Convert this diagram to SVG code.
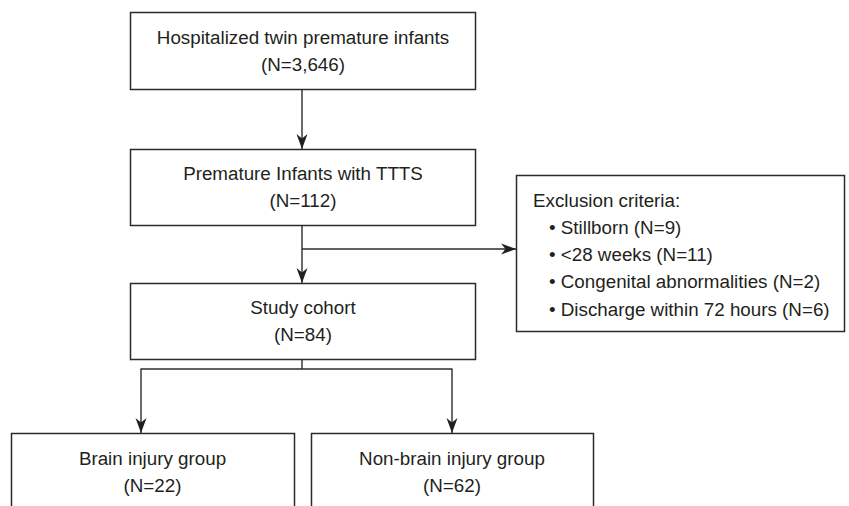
<svg xmlns="http://www.w3.org/2000/svg" width="849" height="506" viewBox="0 0 849 506">
  <defs>
    <style>
      .box { fill: #ffffff; stroke: #2b2b2b; stroke-width: 1.5; }
      .lbl { font-family: "Liberation Sans", Arial, Helvetica, sans-serif; font-size: 18.8px; fill: #231f20; }
      .c { text-anchor: middle; }
      .ln { fill: none; stroke: #2b2b2b; stroke-width: 1.4; }
    </style>
    <marker id="arr" markerUnits="userSpaceOnUse" markerWidth="16" markerHeight="12" refX="15" refY="6" orient="auto" viewBox="0 0 16 12">
      <path d="M0,0.5 L15,6 L0,11.5 L4.5,6 Z" fill="#231f20"/>
    </marker>
  </defs>
  <rect x="0" y="0" width="849" height="506" fill="#ffffff"/>

  <g id="connectors">
    <line class="ln" x1="302" y1="89" x2="302" y2="149" marker-end="url(#arr)"/>
    <line class="ln" x1="302" y1="225" x2="302" y2="283" marker-end="url(#arr)"/>
    <line class="ln" x1="302" y1="249" x2="516" y2="249" marker-end="url(#arr)"/>
    <polyline class="ln" points="302,359 302,369"/>
    <line class="ln" x1="140.5" y1="369" x2="452.5" y2="369"/>
    <line class="ln" x1="141" y1="369" x2="141" y2="433" marker-end="url(#arr)"/>
    <line class="ln" x1="452" y1="369" x2="452" y2="433" marker-end="url(#arr)"/>
  </g>

  <g id="node-hospitalized">
    <rect class="box" x="130.5" y="12.5" width="345" height="77"/>
    <text class="lbl c" x="303" y="44">Hospitalized twin premature infants</text>
    <text class="lbl c" x="303" y="71">(N=3,646)</text>
  </g>

  <g id="node-ttts">
    <rect class="box" x="130.5" y="149.5" width="345" height="76"/>
    <text class="lbl c" x="303" y="180">Premature Infants with TTTS</text>
    <text class="lbl c" x="303" y="207">(N=112)</text>
  </g>

  <g id="node-exclusion">
    <rect class="box" x="516.5" y="175.5" width="328" height="156"/>
    <text class="lbl" x="533" y="207">Exclusion criteria:</text>
    <text class="lbl" x="549" y="234">• Stillborn (N=9)</text>
    <text class="lbl" x="549" y="261">• &lt;28 weeks (N=11)</text>
    <text class="lbl" x="549" y="288">• Congenital abnormalities (N=2)</text>
    <text class="lbl" x="549" y="316">• Discharge within 72 hours (N=6)</text>
  </g>

  <g id="node-cohort">
    <rect class="box" x="130.5" y="283.5" width="345" height="76"/>
    <text class="lbl c" x="303" y="314">Study cohort</text>
    <text class="lbl c" x="303" y="341">(N=84)</text>
  </g>

  <g id="node-brain">
    <rect class="box" x="11.5" y="433.5" width="283" height="100"/>
    <text class="lbl c" x="152.5" y="465">Brain injury group</text>
    <text class="lbl c" x="152.5" y="492">(N=22)</text>
  </g>

  <g id="node-nonbrain">
    <rect class="box" x="311.5" y="433.5" width="282" height="100"/>
    <text class="lbl c" x="452" y="465">Non-brain injury group</text>
    <text class="lbl c" x="452" y="492">(N=62)</text>
  </g>
</svg>
